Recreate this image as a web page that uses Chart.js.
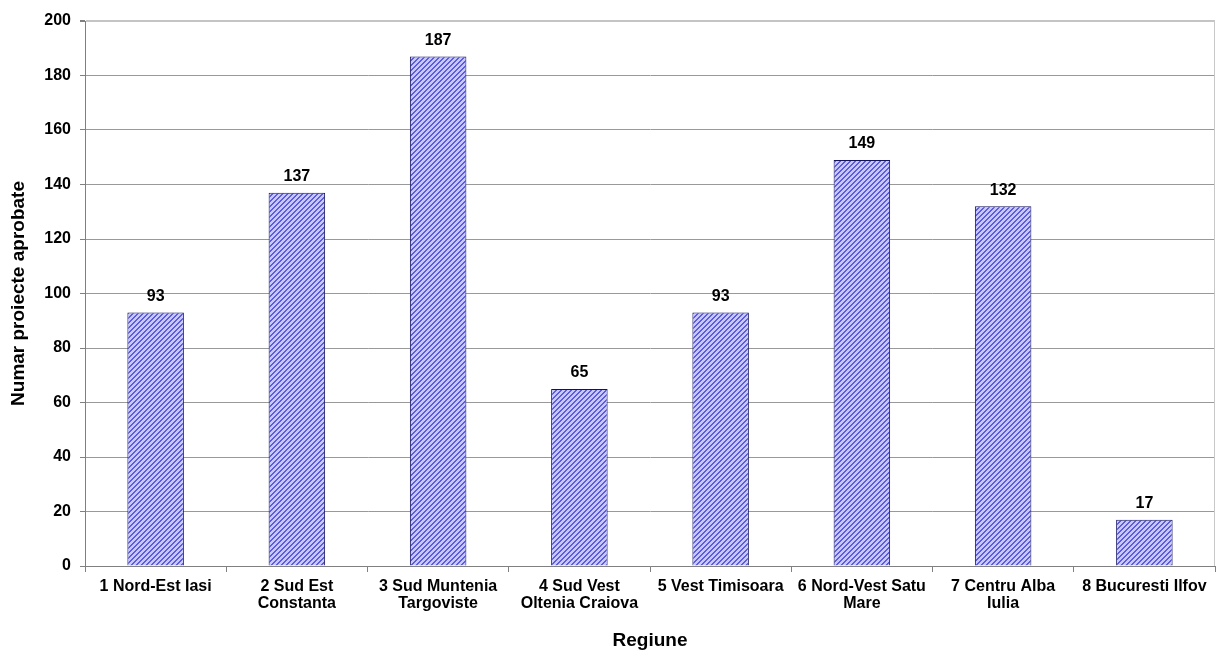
<!DOCTYPE html>
<html>
<head>
<meta charset="utf-8">
<script src="https://cdn.jsdelivr.net/npm/chart.js@4.4.0/dist/chart.umd.min.js"></script>
<style>
  html, body { margin: 0; padding: 0; background: #ffffff; }
  #c { display: block; }
</style>
</head>
<body>
<canvas id="c" width="1216" height="650"></canvas>
<script>
// ---- Data ----
const categories = [
  "1 Nord-Est Iasi",
  ["2 Sud Est", "Constanta"],
  ["3 Sud Muntenia", "Targoviste"],
  ["4 Sud Vest", "Oltenia Craiova"],
  "5 Vest Timisoara",
  ["6 Nord-Vest Satu", "Mare"],
  ["7 Centru Alba", "Iulia"],
  "8 Bucuresti Ilfov"
];
const projectCounts = [93, 137, 187, 65, 93, 149, 132, 17];
const yTickValues = [0, 20, 40, 60, 80, 100, 120, 140, 160, 180, 200];
const xAxisTitle = "Regiune";
const yAxisTitle = "Numar proiecte aprobate";

// ---- Hatch pattern ----
function makeHatch() {
  const n = 5;
  const p = document.createElement('canvas');
  p.width = n; p.height = n;
  const g = p.getContext('2d');
  g.fillStyle = '#c8c8ff';
  g.fillRect(0, 0, n, n);
  g.fillStyle = '#5c5cde';
  for (let x = 0; x < n; x++) {
    for (let y = 0; y < n; y++) {
      const m = (x + y) % n;
      if (m === 0 || m === 1) g.fillRect(x, y, 1, 1);
    }
  }
  return document.getElementById('c').getContext('2d').createPattern(p, 'repeat');
}

const FONT = "'Liberation Sans', Arial, sans-serif";

const valueLabels = {
  id: 'valueLabels',
  afterDatasetsDraw(chart) {
    const ctx = chart.ctx;
    const meta = chart.getDatasetMeta(0);
    ctx.save();
    ctx.font = "bold 16px " + FONT;
    ctx.fillStyle = '#000000';
    ctx.textAlign = 'center';
    ctx.textBaseline = 'middle';
    meta.data.forEach((bar, i) => {
      ctx.fillText(String(projectCounts[i]), bar.x, bar.y - 16);
    });
    ctx.restore();
  }
};

const plotBorder = {
  id: 'plotBorder',
  beforeDatasetsDraw(chart) {
    const a = chart.chartArea;
    const ctx = chart.ctx;
    ctx.save();
    ctx.strokeStyle = '#c8c8c8';
    ctx.lineWidth = 1;
    ctx.beginPath();
    ctx.moveTo(a.right - 0.5, a.top);
    ctx.lineTo(a.right - 0.5, a.bottom);
    ctx.stroke();
    ctx.restore();
  }
};

new Chart(document.getElementById('c'), {
  type: 'bar',
  data: {
    labels: categories,
    datasets: [{
      data: projectCounts,
      backgroundColor: makeHatch(),
      borderColor: '#12125e',
      borderWidth: 1,
      barPercentage: 0.8,
      categoryPercentage: 0.5
    }]
  },
  options: {
    responsive: false,
    animation: false,
    devicePixelRatio: 1,
    layout: { padding: { top: 21, right: 1, left: 0, bottom: 0 } },
    plugins: {
      legend: { display: false },
      tooltip: { enabled: false }
    },
    scales: {
      x: {
        grid: {
          offset: true,
          drawOnChartArea: false,
          drawTicks: true,
          tickLength: 6,
          color: '#808080'
        },
        border: { color: '#808080', width: 1 },
        ticks: {
          color: '#000000',
          font: { family: FONT, size: 16, weight: 'bold', lineHeight: 1.05 },
          padding: 6,
          autoSkip: false,
          maxRotation: 0,
          minRotation: 0
        },
        title: {
          display: true,
          text: xAxisTitle,
          color: '#000000',
          font: { family: FONT, size: 19, weight: 'bold', lineHeight: 1 },
          padding: { top: 0, bottom: 0 }
        },
        afterFit(scale) { scale.height = 84; }
      },
      y: {
        min: 0,
        max: 200,
        afterBuildTicks(scale) { scale.ticks = yTickValues.map(v => ({ value: v })); },
        grid: {
          color: (c) => (c.tick && c.tick.value === 200) ? '#c4c4c4' : '#999999',
          lineWidth: (c) => (c.tick && c.tick.value === 200) ? 2 : 1,
          tickColor: '#808080',
          tickLength: 5,
          drawTicks: true
        },
        border: { color: '#808080', width: 1 },
        ticks: {
          color: '#000000',
          font: { family: FONT, size: 16, weight: 'bold' },
          padding: 9
        },
        title: {
          display: true,
          text: yAxisTitle,
          color: '#000000',
          font: { family: FONT, size: 19, weight: 'bold', lineHeight: 1 },
          padding: { top: 9, bottom: 0 }
        },
        afterFit(scale) { scale.width = 85; }
      }
    }
  },
  plugins: [valueLabels, plotBorder]
});
</script>
</body>
</html>
